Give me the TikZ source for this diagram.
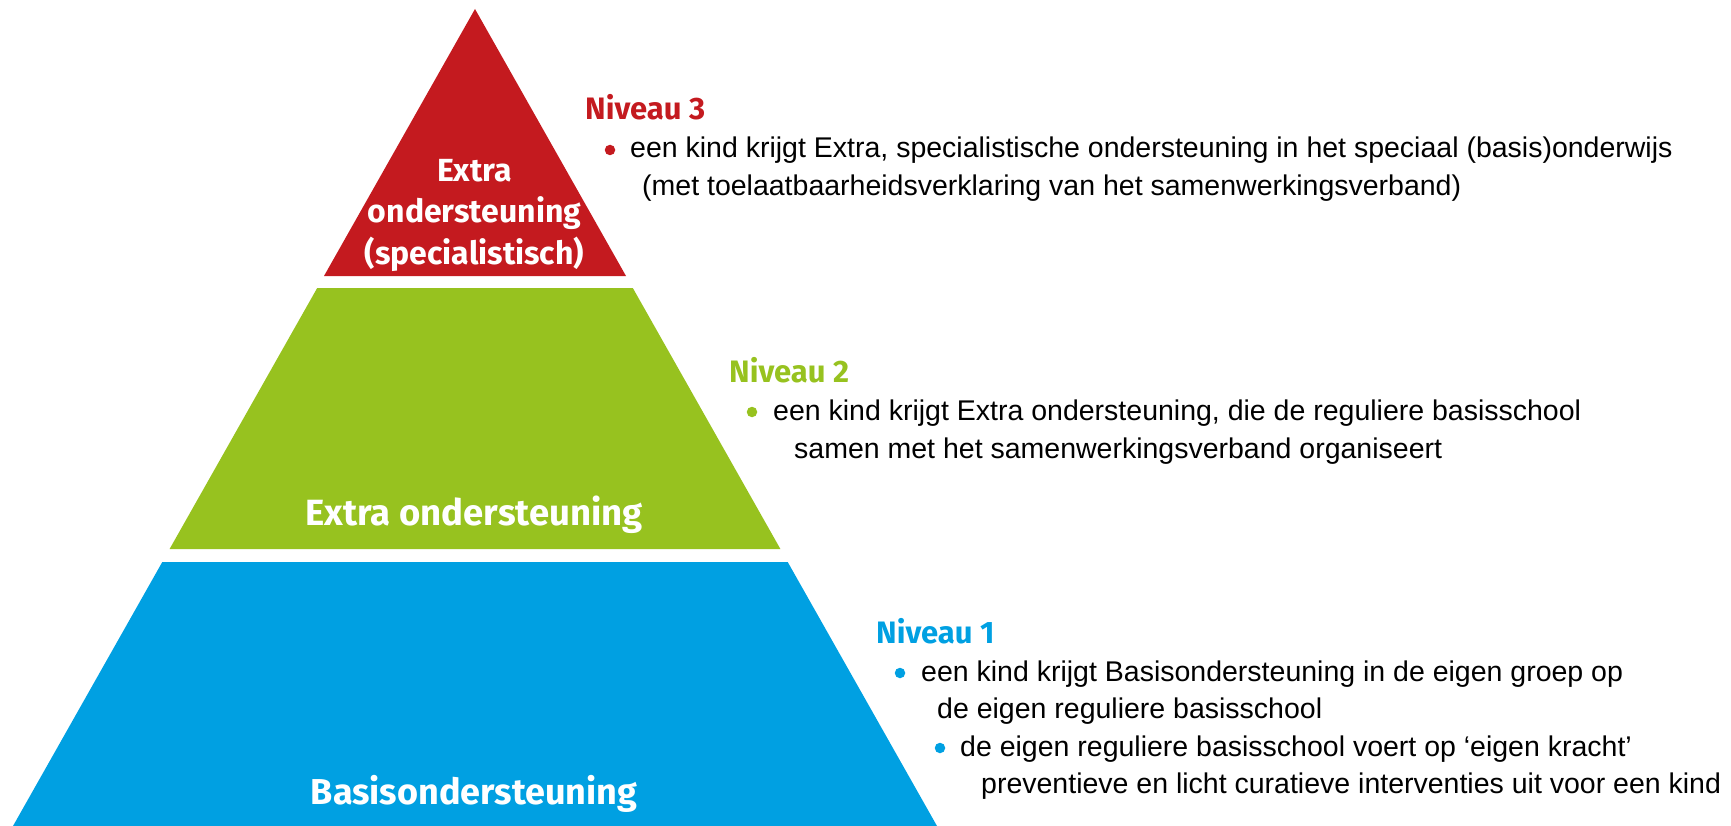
\documentclass[tikz,border=0pt]{standalone}
\usepackage{fontspec}
\setmainfont{Liberation Sans}
\newfontfamily\labfont{Fira Sans}
\definecolor{pred}{RGB}{196,26,31}
\definecolor{pgreen}{RGB}{151,194,31}
\definecolor{pblue}{RGB}{0,160,226}
\begin{document}
\begin{tikzpicture}[x=1pt,y=-1pt,
  body/.style={anchor=base west, inner sep=0pt, font=\fontsize{28.5}{34}\selectfont},
  lvl/.style={anchor=base west, inner sep=0pt, text=#1, font=\labfont\bfseries\fontsize{31}{36}\selectfont},
  pyr/.style={anchor=base, inner sep=0pt, text=white, font=\labfont\bfseries\fontsize{#1}{40}\selectfont},
  dot/.style={circle, fill=#1, inner sep=0pt, minimum size=10.5pt}]
\useasboundingbox (0,0) rectangle (1731,826);
% pyramid
\fill[pred] (475,9) -- (626,276) -- (324,276) -- cycle;
\fill[pgreen] (317.2,288) -- (632.8,288) -- (780.4,549) -- (169.6,549) -- cycle;
\fill[pblue] (162.3,562) -- (787.7,562) -- (937,826) -- (13,826) -- cycle;
% pyramid labels
\node[pyr=32] (r1) at (474.5,182) {Extra};
\node[pyr=32] (r2) at (474.5,223) {ondersteuning};
\node[pyr=32] (r3) at (474.5,265) {(specialistisch)};
\node[pyr=36.5] (g1) at (474,525) {Extra ondersteuning};
\node[pyr=36] (b1) at (474,804) {Basisondersteuning};
% Niveau 3
\node[lvl=pred] (n3) at (585,120) {Niveau 3};
\node[dot=pred] (d3) at (610,150) {};
\node[body] (t3a) at (630,158) {een kind krijgt Extra, specialistische ondersteuning in het speciaal (basis)onderwijs};
\node[body] (t3b) at (642,196) {(met toelaatbaarheidsverklaring van het samenwerkingsverband)};
% Niveau 2
\node[lvl=pgreen] (n2) at (729,382) {Niveau 2};
\node[dot=pgreen] (d2) at (752,412) {};
\node[body] (t2a) at (773,420) {een kind krijgt Extra ondersteuning, die de reguliere basisschool};
\node[body] (t2b) at (794,458) {samen met het samenwerkingsverband organiseert};
% Niveau 1
\node[lvl=pblue] (n1) at (876,643) {Niveau 1};
\node[dot=pblue] (d1a) at (900,673) {};
\node[body] (t1a) at (921,681) {een kind krijgt Basisondersteuning in de eigen groep op};
\node[body] (t1b) at (937,718) {de eigen reguliere basisschool};
\node[dot=pblue] (d1b) at (940,748) {};
\node[body] (t1c) at (960,756) {de eigen reguliere basisschool voert op ‘eigen kracht’};
\node[body] (t1d) at (981,793) {preventieve en licht curatieve interventies uit voor een kind};
\end{tikzpicture}
\end{document}
